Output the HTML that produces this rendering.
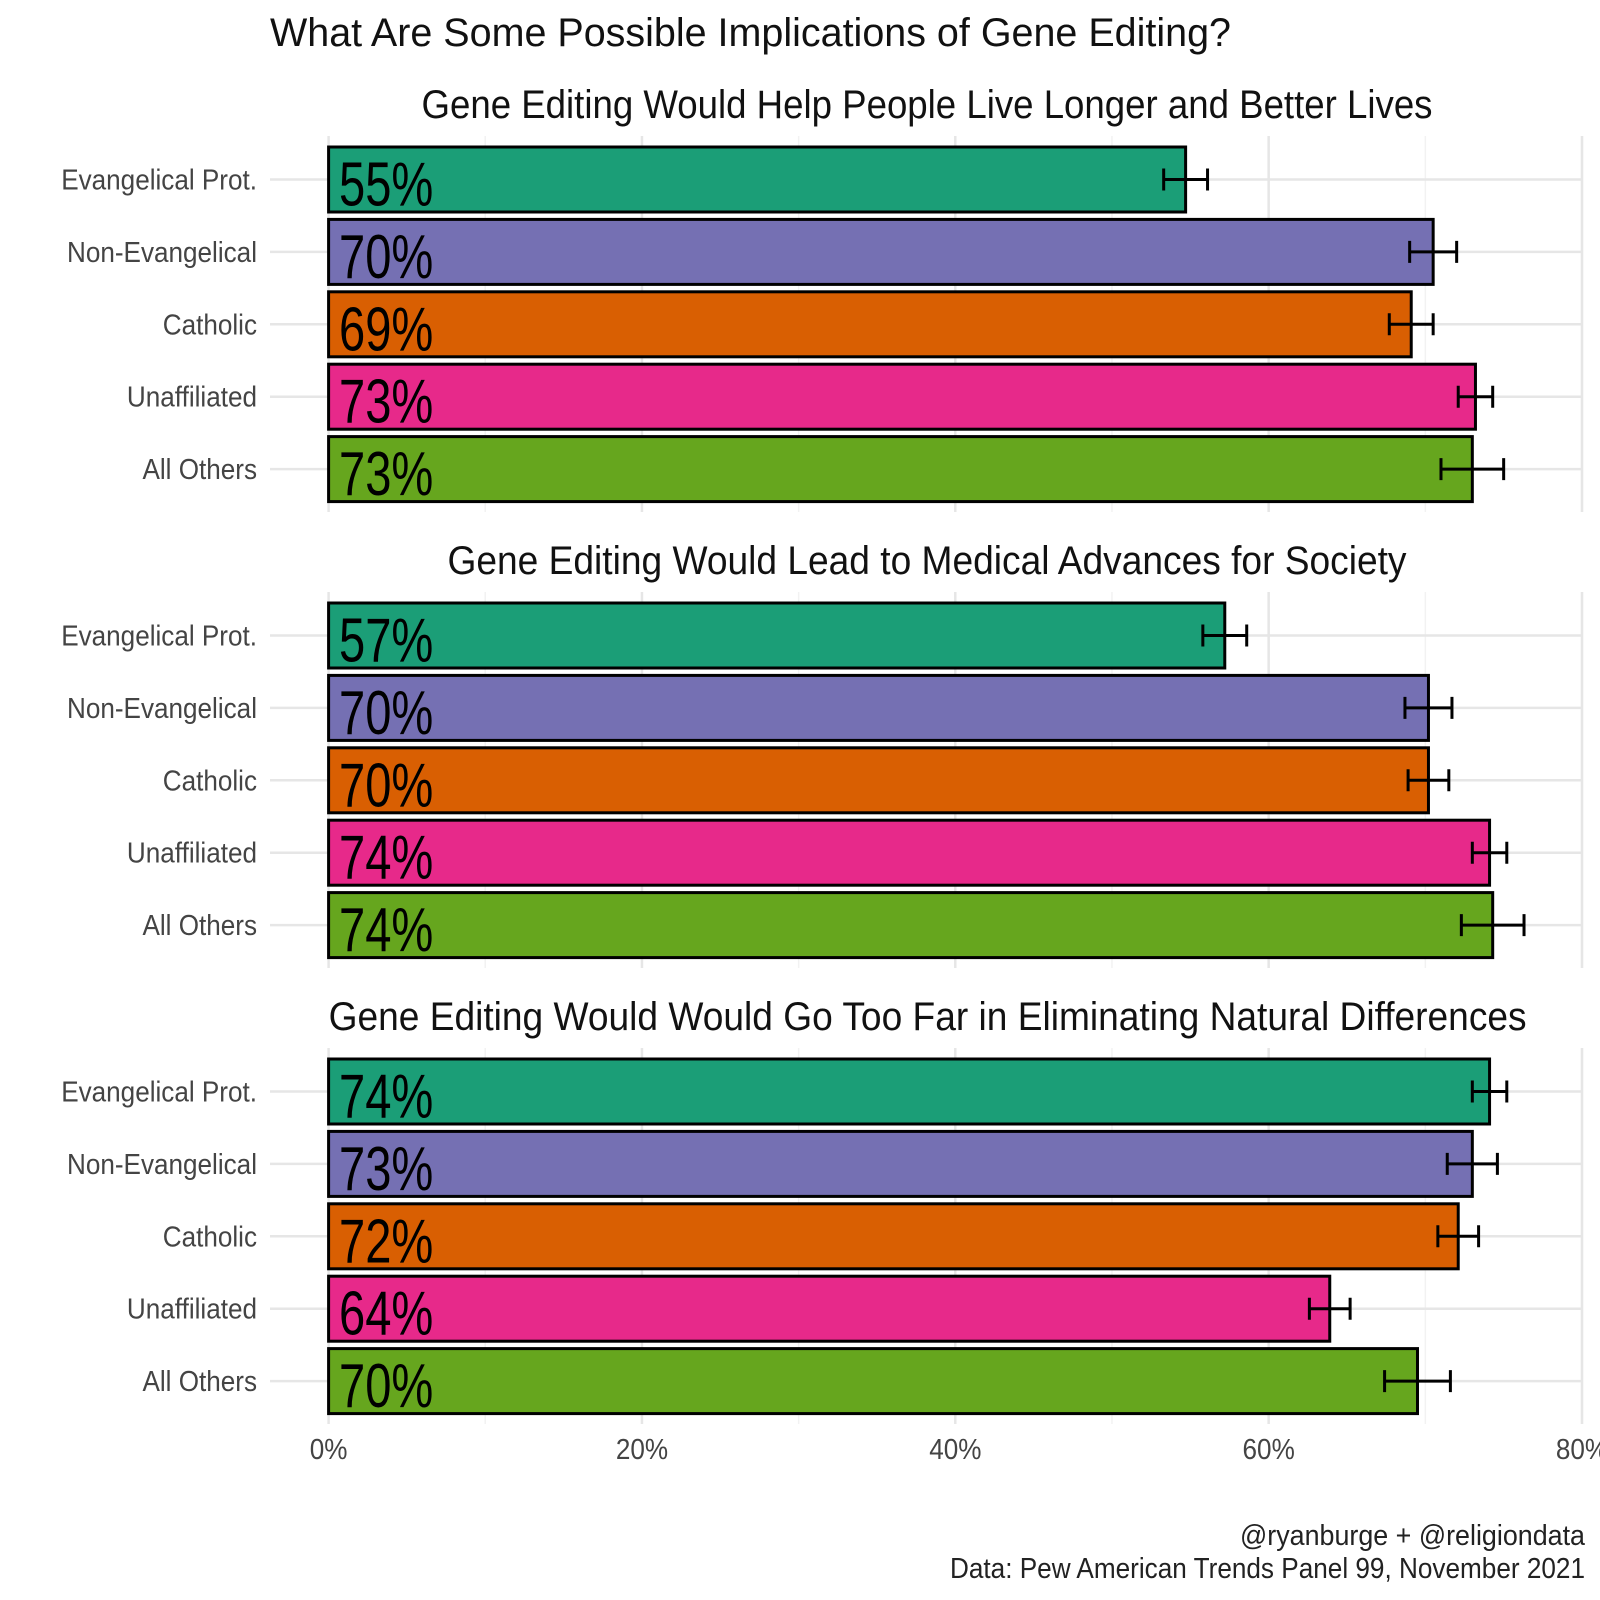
<!DOCTYPE html>
<html><head><meta charset="utf-8"><style>
html,body{margin:0;padding:0;background:#fff}
svg{display:block;font-family:"Liberation Sans Narrow","Liberation Sans",sans-serif}
</style></head><body>
<svg id="chart" width="1600" height="1600" viewBox="0 0 1600 1600">
<text x="270" y="46" font-size="40" fill="#111" textLength="961" lengthAdjust="spacingAndGlyphs">What Are Some Possible Implications of Gene Editing?</text>
<g id="panels"></g>
<g id="xaxis"></g>
<text x="1585" y="1545" font-size="29" fill="#222" text-anchor="end" textLength="345" lengthAdjust="spacingAndGlyphs">@ryanburge + @religiondata</text>
<text x="1585" y="1578" font-size="29" fill="#222" text-anchor="end" textLength="635" lengthAdjust="spacingAndGlyphs">Data: Pew American Trends Panel 99, November 2021</text>
</svg>
<script>
const categories = ["Evangelical Prot.","Non-Evangelical","Catholic","Unaffiliated","All Others"];
const panelTitles = ["Gene Editing Would Help People Live Longer and Better Lives","Gene Editing Would Lead to Medical Advances for Society","Gene Editing Would Would Go Too Far in Eliminating Natural Differences"];
const values1 = [54.7,70.5,69.1,73.2,73.0];
const values2 = [57.2,70.2,70.2,74.1,74.3];
const values3 = [74.1,73.0,72.1,63.9,69.5];
const errors1 = [1.4,1.5,1.4,1.1,2.0];
const errors2 = [1.4,1.5,1.3,1.1,2.0];
const errors3 = [1.1,1.6,1.3,1.3,2.1];
const labels1 = ["55%","70%","69%","73%","73%"];
const labels2 = ["57%","70%","70%","74%","74%"];
const labels3 = ["74%","73%","72%","64%","70%"];
const xTicks = [0,20,40,60,80];
const xTickLabels = ["0%","20%","40%","60%","80%"];
const minorTicks = [10,30,50,70];

const colors = ["#1b9e77","#7570b3","#d95f02","#e7298a","#66a61e"];
const NS = "http://www.w3.org/2000/svg";
const x0 = 328.6, x80 = 1582;
const xs = v => x0 + (x80 - x0) * v / 80;
const panelTop = [136, 592, 1048];
const firstCenter = 179.5, step = 72.4, barH = 65;
const ys = (p, i) => panelTop[p] + (firstCenter - 136) + i * step;
function mk(tag, attrs, parent){const e=document.createElementNS(NS,tag);for(const k in attrs)e.setAttribute(k,attrs[k]);parent.appendChild(e);return e;}
const root = document.getElementById("panels");
const allVals=[values1,values2,values3], allErr=[errors1,errors2,errors3], allLab=[labels1,labels2,labels3];
const titleY=[118,574,1030];
const titleX=[927,927,328.6], titleAnchor=["middle","middle","start"], titleLen=[1011,959,1198];
for(let p=0;p<3;p++){
  const g=mk("g",{},root);
  
  
  const t=mk("text",{x:titleX[p],y:titleY[p],"font-size":40,fill:"#111","text-anchor":titleAnchor[p],textLength:titleLen[p],lengthAdjust:"spacingAndGlyphs"},g);
  t.textContent=panelTitles[p];
  
  
  const top=panelTop[p], bot=top+376;
  minorTicks.forEach(v=>{const l=mk("line",{x1:xs(v),x2:xs(v),y1:top,y2:bot,stroke:"#f2f2f2","stroke-width":1.5},g);
    });
  xTicks.forEach(v=>{const l=mk("line",{x1:xs(v),x2:xs(v),y1:top,y2:bot,stroke:"#e6e6e6","stroke-width":2.5},g);
    });
  categories.forEach((c,i)=>{
    const y=ys(p,i);
    const gl=mk("line",{x1:270,x2:x80,y1:y,y2:y,stroke:"#e6e6e6","stroke-width":2.5},g);
    
    const lab=mk("text",{x:0,y:0,transform:`translate(257,${y+10}) scale(0.9,1)`,"font-size":29,fill:"#444","text-anchor":"end"},g);
    lab.textContent=c;
    
    const v=allVals[p][i];
    const r=mk("rect",{x:x0,y:y-barH/2,width:xs(v)-x0,height:barH,fill:colors[i],stroke:"#000","stroke-width":3},g);
    
    const e=allErr[p][i], a=xs(v-e), b=xs(v+e);
    const eb=mk("path",{d:`M${a},${y-11}V${y+11}M${a},${y}H${b}M${b},${y-11}V${y+11}`,stroke:"#000","stroke-width":3,fill:"none"},g);
    
    const vt=mk("text",{x:0,y:0,transform:`translate(339,${y+26}) scale(0.76,1)`,"font-size":62,fill:"#000"},g);
    vt.textContent=allLab[p][i];
    
  });
}
const xa=document.getElementById("xaxis");


xTicks.forEach((v,i)=>{const t=mk("text",{x:0,y:0,transform:`translate(${xs(v)},1459) scale(0.9,1)`,"font-size":29,fill:"#444","text-anchor":"middle"},xa);
  t.textContent=xTickLabels[i];
  });
</script>
</body></html>
